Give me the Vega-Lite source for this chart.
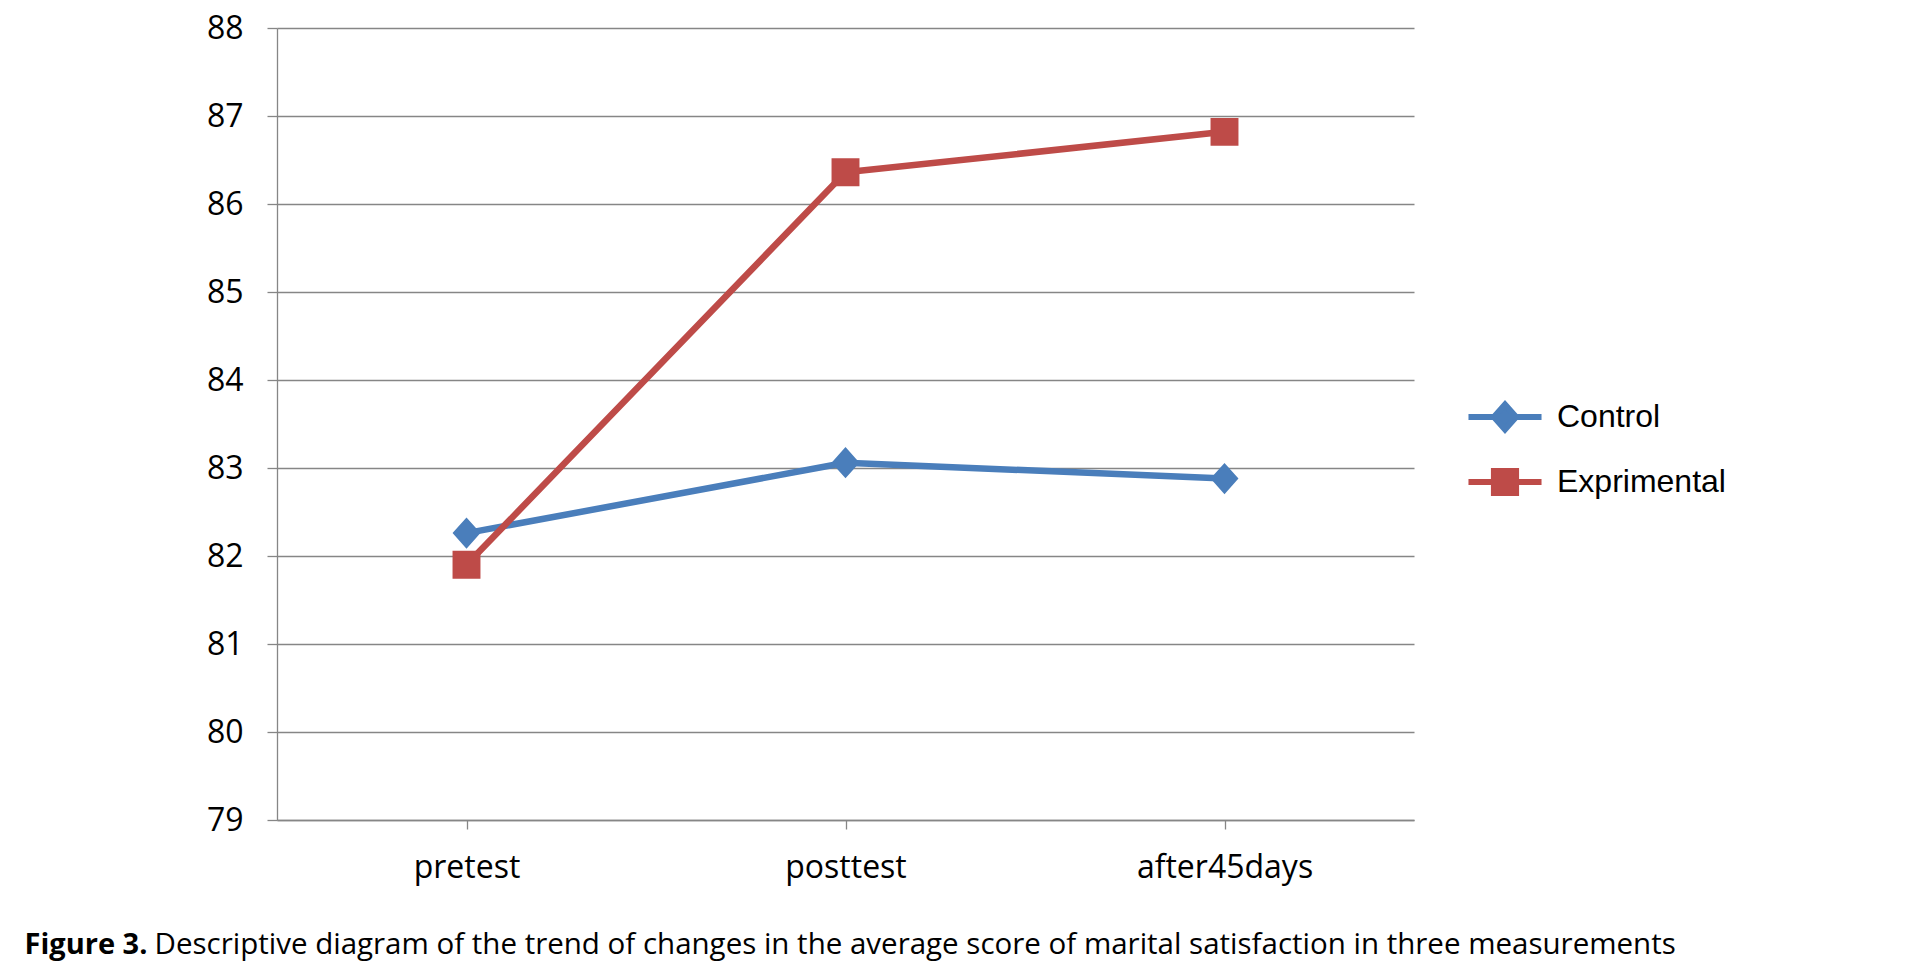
{
  "$schema": "https://vega.github.io/schema/vega-lite/v6.json",
  "width": 1137,
  "height": 792,
  "autosize": "none",
  "padding": {"left": 277, "top": 28, "right": 493, "bottom": 160},
  "background": "white",
  "data": {
    "values": [
      {"time": "pretest", "group": "Control", "score": 82.26},
      {"time": "posttest", "group": "Control", "score": 83.06},
      {"time": "after45days", "group": "Control", "score": 82.88},
      {"time": "pretest", "group": "Exprimental", "score": 81.9},
      {"time": "posttest", "group": "Exprimental", "score": 86.36},
      {"time": "after45days", "group": "Exprimental", "score": 86.82}
    ]
  },
  "config": {
    "view": {"stroke": null},
    "axis": {
      "domainColor": "#868686",
      "domainWidth": 1.3,
      "tickColor": "#868686",
      "tickWidth": 1.3,
      "gridColor": "#868686",
      "gridWidth": 1.3,
      "labelFont": "Open Sans",
      "labelFontSize": 32,
      "labelColor": "#000000"
    }
  },
  "encoding": {
    "x": {
      "field": "time",
      "type": "nominal",
      "sort": ["pretest", "posttest", "after45days"],
      "scale": {"type": "point", "padding": 0.5},
      "axis": {
        "labelAngle": 0,
        "tickSize": 9,
        "labelPadding": 23,
        "grid": false,
        "title": "Descriptive diagram of the trend of changes in the average score of marital satisfaction in three measurements",
        "titleFont": "Open Sans",
        "titleFontSize": 29.5,
        "titleFontWeight": "normal",
        "titleColor": "#000000",
        "titleX": -123,
        "titleY": 133,
        "titleAlign": "left",
        "titleBaseline": "alphabetic"
      }
    },
    "y": {
      "field": "score",
      "type": "quantitative",
      "scale": {"domain": [79, 88], "nice": false, "zero": false},
      "axis": {
        "values": [79, 80, 81, 82, 83, 84, 85, 86, 87, 88],
        "tickSize": 10,
        "labelPadding": 24,
        "grid": true,
        "title": "Figure 3.",
        "titleFont": "Open Sans",
        "titleFontSize": 29,
        "titleFontWeight": "bold",
        "titleColor": "#000000",
        "titleAngle": 0,
        "titleX": -253,
        "titleY": 925,
        "titleAlign": "left",
        "titleBaseline": "alphabetic"
      }
    },
    "color": {
      "field": "group",
      "type": "nominal",
      "scale": {"domain": ["Control", "Exprimental"], "range": ["#4A7EBB", "#BE4B48"]},
      "legend": {
        "orient": "none",
        "legendX": 1212,
        "legendY": 373,
        "title": null,
        "symbolSize": 490,
        "labelOffset": 36,
        "rowPadding": 16,
        "labelFont": "Liberation Sans",
        "labelFontSize": 32,
        "labelLimit": 500,
        "labelColor": "#000000",
        "symbolStrokeWidth": 6,
        "encode": {
          "symbols": {
            "update": {
              "stroke": {"signal": "datum.value === 'Control' ? '#4A7EBB' : '#BE4B48'"},
              "fill": {"signal": "datum.value === 'Control' ? '#4A7EBB' : '#BE4B48'"},
              "strokeWidth": {"value": 6},
              "opacity": {"value": 1}
            }
          }
        }
      }
    }
  },
  "layer": [
    {
      "mark": {"type": "line", "strokeWidth": 6.5, "strokeCap": "round", "strokeJoin": "round"}
    },
    {
      "mark": {"type": "point", "filled": true, "size": 780, "opacity": 1, "strokeWidth": 0},
      "encoding": {
        "shape": {
          "field": "group",
          "type": "nominal",
          "scale": {
            "domain": ["Control", "Exprimental"],
            "range": ["M-3.3,0H3.3M0,-1.12L1,0L0,1.12L-1,0Z", "M-3.3,0H3.3M-1,-1H1V1H-1Z"]
          },
          "legend": null
        }
      }
    }
  ]
}
